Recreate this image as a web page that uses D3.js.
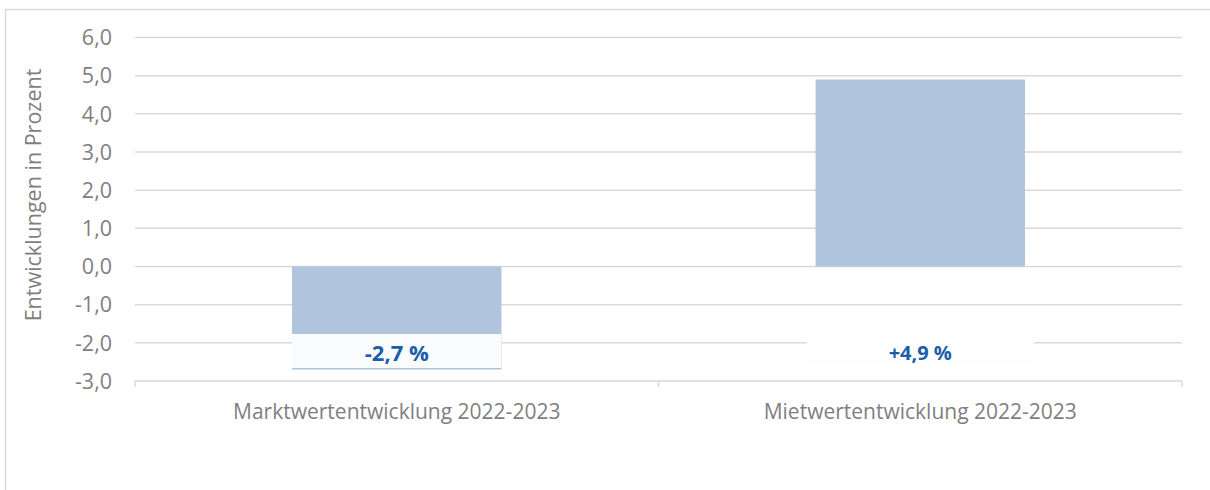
<!DOCTYPE html>
<html>
<head>
<meta charset="utf-8">
<script src="https://cdn.jsdelivr.net/npm/d3@7"></script>
<style>
    body { margin: 0; background: #fff; }
    text { font-family: "Open Sans", sans-serif; }
</style>
</head>
<body>
<div id="chart"></div>
<script>
// chart data
const categories = ["Marktwertentwicklung 2022-2023", "Mietwertentwicklung 2022-2023"];
const values = [-2.7, 4.9];
const valueLabels = ["-2,7 %", "+4,9 %"];
const yTicks = [-3, -2, -1, 0, 1, 2, 3, 4, 5, 6];
const yTitle = "Entwicklungen in Prozent";

const width = 1210, height = 490;
const margin = {left: 135, right: 28, top: 37.5, bottom: 109};

var svg = d3.select("#chart").append("svg")
    .attr("width", width)
    .attr("height", height);

// outer chart frame (only top and left edges visible)
svg.append("path")
    .attr("d", "M5.5,490 V9.5 H1210")
    .attr("stroke", "#d9d9d9")
    .attr("stroke-width", 1.5)
    .attr("fill", "none");

const x = d3.scaleBand()
    .domain(categories)
    .range([margin.left, width - margin.right])
    .paddingInner(0)
    .paddingOuter(0);

const y = d3.scaleLinear()
    .domain([-3, 6])
    .range([height - margin.bottom, margin.top]);

function fmt(d) {
    return d3.format(".1f")(d).replace(".", ",").replace("\u2212", "-");
}

// gridlines
svg.append("g")
    .selectAll("line")
    .data(yTicks.filter(d => d != -3))
    .join("line")
    .attr("x1", margin.left)
    .attr("x2", width - margin.right)
    .attr("y1", d => y(d))
    .attr("y2", d => y(d))
    .attr("stroke", "#d9d9d9")
    .attr("stroke-width", 1.5);

// y tick labels
svg.append("g")
    .selectAll("text")
    .data(yTicks)
    .join("text")
    .attr("x", 112)
    .attr("y", d => y(d))
    .attr("dy", "0.36em")
    .attr("text-anchor", "end")
    .attr("fill", "#7f7f7f")
    .attr("font-size", 21.5)
    .text(d => fmt(d));

// y title
svg.append("text")
    .attr("transform", "translate(33," + 195 + ") rotate(-90)")
    .attr("text-anchor", "middle")
    .attr("dy", "0.35em")
    .attr("fill", "#7f7f7f")
    .attr("font-size", 21.5)
    .text(yTitle);

// bars
const barW = x.bandwidth() * 0.4;
svg.append("g")
    .selectAll("rect")
    .data(values)
    .join("rect")
    .attr("x", (d, i) => x(categories[i]) + (x.bandwidth() - barW) / 2)
    .attr("width", barW)
    .attr("y", d => y(Math.max(0, d)))
    .attr("height", d => Math.abs(y(d) - y(0)))
    .attr("fill", "#b0c4de");

// x axis line with ticks between categories
const axisY = y(-3);
svg.append("line")
    .attr("x1", margin.left).attr("x2", width - margin.right)
    .attr("y1", axisY).attr("y2", axisY)
    .attr("stroke", "#d9d9d9").attr("stroke-width", 1.5);
const boundaries = categories.map(c => x(c)).concat([x(categories[categories.length - 1]) + x.bandwidth()]);
svg.append("g")
    .selectAll("line")
    .data(boundaries)
    .join("line")
    .attr("x1", d => d).attr("x2", d => d)
    .attr("y1", axisY).attr("y2", axisY + 6)
    .attr("stroke", "#d9d9d9").attr("stroke-width", 1.5);

// category labels
svg.append("g")
    .selectAll("text")
    .data(categories)
    .join("text")
    .attr("x", d => x(d) + x.bandwidth() / 2)
    .attr("y", 412)
    .attr("dy", "0.35em")
    .attr("text-anchor", "middle")
    .attr("fill", "#7f7f7f")
    .attr("font-size", 21)
    .text(d => d);

// data labels with filled boxes, placed near the bottom of the plot
const labelY = 353;
const boxes = [
    {w: barW, top: 334, h: 34, fill: "#f9fbfd"},
    {w: barW + 18, top: 341, h: 25, fill: "#fefefe"}
];
svg.append("g")
    .selectAll("rect")
    .data(values)
    .join("rect")
    .attr("x", (d, i) => x(categories[i]) + (x.bandwidth() - boxes[i].w) / 2)
    .attr("width", (d, i) => boxes[i].w)
    .attr("y", (d, i) => boxes[i].top)
    .attr("height", (d, i) => boxes[i].h)
    .attr("fill", (d, i) => boxes[i].fill);

svg.append("g")
    .selectAll("text")
    .data(valueLabels)
    .join("text")
    .attr("x", (d, i) => x(categories[i]) + x.bandwidth() / 2)
    .attr("y", labelY)
    .attr("dy", "0.36em")
    .attr("text-anchor", "middle")
    .attr("fill", "#1a5ea8")
    .attr("font-weight", "bold")
    .attr("font-size", (d, i) => i == 0 ? 22 : 20)
    .text(d => d);
</script>
</body>
</html>
